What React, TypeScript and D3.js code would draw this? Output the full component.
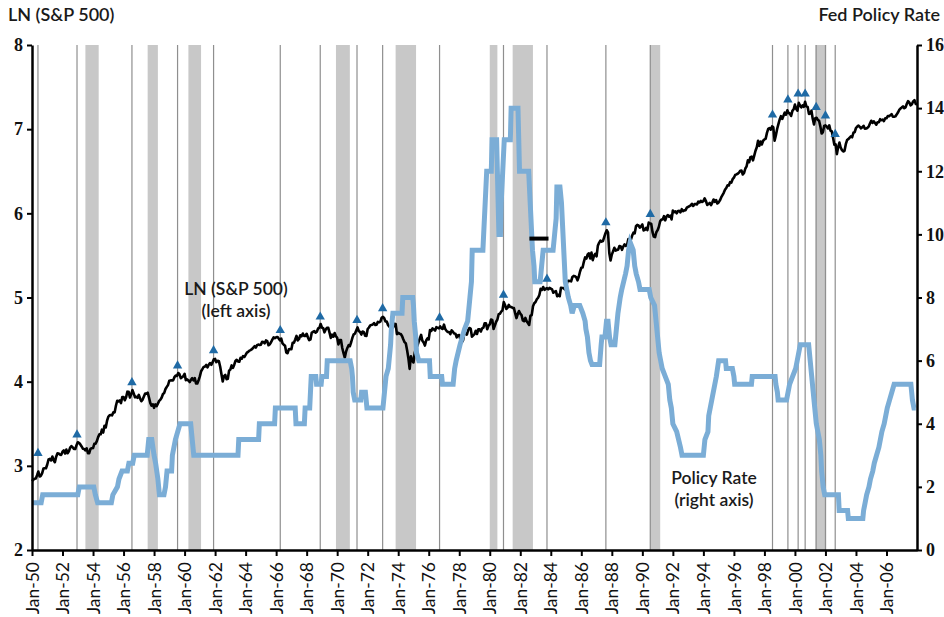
import React, { useRef, useEffect } from 'react';
import * as d3 from 'd3';

const W = 944;
const H = 617;

// S&P 500 month-end closes, one row per year starting 1950
const spxFirstYear = 1950;
const spxDec1949 = 16.76;
const spxCloses: number[][] = [
  [17.05, 17.22, 17.29, 17.96, 18.78, 17.69, 17.84, 18.42, 19.45, 19.53, 19.51, 20.41],
  [21.66, 21.8, 21.4, 22.43, 21.52, 20.96, 22.4, 23.28, 23.26, 22.94, 22.88, 23.77],
  [24.14, 23.26, 24.37, 23.32, 23.86, 24.96, 25.4, 25.03, 24.54, 24.52, 25.66, 26.57],
  [26.38, 25.9, 25.29, 24.62, 24.54, 24.14, 24.75, 23.32, 23.35, 24.54, 24.76, 24.81],
  [26.08, 26.15, 26.94, 28.26, 29.19, 29.21, 30.88, 29.83, 32.31, 31.68, 34.24, 35.98],
  [36.63, 36.76, 36.58, 37.96, 37.91, 41.03, 43.52, 43.18, 43.67, 42.34, 45.51, 45.48],
  [43.82, 45.34, 48.48, 48.38, 45.2, 46.97, 49.39, 47.51, 45.35, 45.58, 45.08, 46.67],
  [44.72, 43.26, 44.11, 45.74, 47.43, 47.37, 47.91, 45.22, 42.42, 41.06, 41.72, 39.99],
  [41.7, 40.84, 42.1, 43.44, 44.09, 45.24, 47.19, 47.75, 50.06, 51.33, 52.48, 55.21],
  [55.42, 55.41, 55.44, 57.59, 58.68, 58.47, 60.51, 59.6, 56.88, 57.52, 58.28, 59.89],
  [55.61, 56.12, 55.34, 54.37, 55.83, 56.92, 55.51, 56.96, 53.52, 53.39, 55.54, 58.11],
  [61.78, 63.44, 65.06, 65.31, 66.56, 64.64, 66.76, 68.07, 66.73, 68.62, 71.32, 71.55],
  [68.84, 69.96, 69.55, 65.24, 59.63, 54.75, 58.23, 59.12, 56.27, 56.52, 62.26, 63.1],
  [66.2, 64.29, 66.57, 69.8, 70.8, 69.37, 69.13, 72.5, 71.7, 74.01, 73.23, 75.02],
  [77.04, 77.8, 78.98, 79.46, 80.37, 81.69, 83.18, 81.83, 84.18, 84.86, 84.42, 84.75],
  [87.56, 87.43, 86.16, 89.11, 88.42, 84.12, 85.25, 87.17, 89.96, 92.42, 91.61, 92.43],
  [92.88, 91.22, 89.23, 91.06, 86.13, 84.74, 83.6, 77.1, 76.56, 80.2, 80.45, 80.33],
  [86.61, 86.78, 90.2, 94.01, 89.08, 90.64, 94.75, 93.64, 96.71, 93.9, 94.0, 96.47],
  [92.24, 89.36, 90.2, 97.59, 98.68, 99.58, 97.74, 98.86, 102.67, 103.41, 108.37, 103.86],
  [103.01, 98.13, 101.51, 103.69, 103.46, 97.71, 91.83, 95.51, 93.12, 97.24, 93.81, 92.06],
  [85.02, 89.5, 89.63, 81.52, 76.55, 72.72, 78.05, 81.52, 84.21, 83.25, 87.2, 92.15],
  [95.88, 96.75, 100.31, 103.95, 99.63, 98.7, 95.58, 99.03, 98.34, 94.23, 93.99, 102.09],
  [103.94, 106.57, 107.2, 107.67, 109.53, 107.14, 107.39, 111.09, 110.55, 111.58, 116.67, 118.05],
  [116.03, 111.68, 111.52, 106.97, 104.95, 104.26, 108.22, 104.25, 108.43, 108.29, 95.96, 97.55],
  [96.57, 96.22, 93.98, 90.31, 87.28, 86.0, 79.31, 72.15, 63.54, 73.9, 69.97, 68.56],
  [76.98, 81.59, 83.36, 87.3, 91.15, 95.19, 88.75, 86.88, 83.87, 89.04, 91.24, 90.19],
  [100.86, 99.71, 102.77, 101.64, 100.18, 104.28, 103.44, 102.91, 105.24, 102.9, 102.1, 107.46],
  [102.03, 99.82, 98.42, 98.44, 96.12, 100.48, 98.85, 96.77, 96.53, 92.34, 94.83, 95.1],
  [89.25, 87.04, 89.21, 96.83, 97.24, 95.53, 100.68, 103.29, 102.54, 93.15, 94.7, 96.11],
  [99.93, 96.28, 101.59, 101.76, 99.08, 102.91, 103.81, 109.32, 109.32, 101.82, 106.16, 107.94],
  [114.16, 113.66, 102.09, 106.29, 111.24, 114.24, 121.67, 122.38, 125.46, 127.47, 140.52, 135.76],
  [129.55, 131.27, 136.0, 132.81, 132.59, 131.21, 130.92, 122.79, 116.18, 121.89, 126.35, 122.55],
  [120.4, 113.11, 111.96, 116.44, 111.88, 109.61, 107.09, 119.51, 120.42, 133.71, 138.54, 140.64],
  [145.3, 148.06, 152.96, 164.42, 162.39, 168.11, 162.56, 164.4, 166.07, 163.55, 166.4, 164.93],
  [163.41, 157.06, 159.18, 160.05, 150.55, 153.18, 150.66, 166.68, 166.1, 166.09, 163.58, 167.24],
  [179.63, 181.18, 180.66, 179.83, 189.55, 191.85, 190.92, 188.63, 182.08, 189.82, 202.17, 211.28],
  [211.78, 226.92, 238.9, 235.52, 247.35, 250.84, 236.12, 252.93, 231.32, 243.98, 249.22, 242.17],
  [274.08, 284.2, 291.7, 288.36, 290.1, 304.0, 318.66, 329.8, 321.83, 251.79, 230.3, 247.08],
  [257.07, 267.82, 258.89, 261.33, 262.16, 273.5, 272.02, 261.52, 271.91, 278.97, 273.7, 277.72],
  [297.47, 288.86, 294.87, 309.64, 320.52, 317.98, 346.08, 351.45, 349.15, 340.36, 345.99, 353.4],
  [329.08, 331.89, 339.94, 330.8, 361.23, 358.02, 356.15, 322.56, 306.05, 304.0, 322.22, 330.22],
  [343.93, 367.07, 375.22, 375.35, 389.83, 371.16, 387.81, 395.43, 387.86, 392.46, 375.22, 417.09],
  [408.79, 412.7, 403.69, 414.95, 415.35, 408.14, 424.21, 414.03, 417.8, 418.68, 431.35, 435.71],
  [438.78, 443.38, 451.67, 440.19, 450.19, 450.53, 448.13, 463.56, 458.93, 467.83, 461.79, 466.45],
  [481.61, 467.14, 445.77, 450.91, 456.5, 444.27, 458.26, 475.49, 462.69, 472.35, 453.69, 459.27],
  [470.42, 487.39, 500.71, 514.71, 533.4, 544.75, 562.06, 561.88, 584.41, 581.5, 605.37, 615.93],
  [636.02, 640.43, 645.5, 654.17, 669.12, 670.63, 639.95, 651.99, 687.31, 705.27, 757.02, 740.74],
  [786.16, 790.82, 757.12, 801.34, 848.28, 885.14, 954.29, 899.47, 947.28, 914.62, 955.4, 970.43],
  [980.28, 1049.34, 1101.75, 1111.75, 1090.82, 1133.84, 1120.67, 957.28, 1017.01, 1098.67, 1163.63, 1229.23],
  [1279.64, 1238.33, 1286.37, 1335.18, 1301.84, 1372.71, 1328.72, 1320.41, 1282.71, 1362.93, 1388.91, 1469.25],
  [1394.46, 1366.42, 1498.58, 1452.43, 1420.6, 1454.6, 1430.83, 1517.68, 1436.51, 1429.4, 1314.95, 1320.28],
  [1366.01, 1239.94, 1160.33, 1249.46, 1255.82, 1224.38, 1211.23, 1133.58, 1040.94, 1059.78, 1139.45, 1148.08],
  [1130.2, 1106.73, 1147.39, 1076.92, 1067.14, 989.82, 911.62, 916.07, 815.28, 885.76, 936.31, 879.82],
  [855.7, 841.15, 848.18, 916.92, 963.59, 974.5, 990.31, 1008.01, 995.97, 1050.71, 1058.2, 1111.92],
  [1131.13, 1144.94, 1126.21, 1107.3, 1120.68, 1140.84, 1101.72, 1104.24, 1114.58, 1130.2, 1173.82, 1211.92],
  [1181.27, 1203.6, 1180.59, 1156.85, 1191.5, 1191.33, 1234.18, 1220.33, 1228.81, 1207.01, 1249.48, 1248.29],
  [1280.08, 1280.66, 1294.83, 1310.61, 1270.09, 1270.2, 1276.66, 1303.82, 1335.85, 1377.94, 1400.63, 1418.3],
  [1438.24, 1406.82, 1420.86, 1482.37, 1530.62, 1503.35, 1455.27, 1473.99, 1526.75, 1549.38, 1481.14, 1468.36],
];

// Fed policy rate, corner points of the step line (decimal year, percent)
const policyDates = [
  1950.0, 1950.6, 1950.7, 1953.0, 1953.1, 1954.05, 1954.15, 1954.3, 1955.2, 1955.3, 1955.6, 1955.7, 1955.9,
  1956.25, 1956.35, 1956.6, 1956.7, 1957.55, 1957.65, 1957.85, 1958.0, 1958.1, 1958.25, 1958.35, 1958.65,
  1958.75, 1958.85, 1959.15, 1959.2, 1959.4, 1959.7, 1960.4, 1960.5, 1960.6, 1963.5, 1963.55, 1964.85,
  1964.9, 1965.9, 1965.95, 1967.25, 1967.3, 1967.85, 1967.9, 1968.2, 1968.25, 1968.3, 1968.6, 1968.65,
  1968.95, 1969.0, 1969.3, 1969.35, 1970.85, 1970.95, 1971.0, 1971.05, 1971.15, 1971.55, 1971.6, 1971.85,
  1971.9, 1971.95, 1973.0, 1973.1, 1973.2, 1973.35, 1973.4, 1973.5, 1973.55, 1973.65, 1974.25, 1974.3,
  1974.95, 1975.0, 1975.05, 1975.15, 1975.2, 1975.35, 1976.05, 1976.1, 1976.85, 1976.9, 1977.6, 1977.7,
  1977.8, 1978.05, 1978.35, 1978.55, 1978.65, 1978.7, 1978.8, 1978.85, 1979.55, 1979.6, 1979.65, 1979.7,
  1979.8, 1980.1, 1980.15, 1980.45, 1980.5, 1980.55, 1980.6, 1980.7, 1980.75, 1980.85, 1980.95, 1981.35,
  1981.4, 1981.85, 1981.9, 1981.95, 1982.55, 1982.6, 1982.65, 1982.7, 1982.75, 1982.8, 1982.9, 1982.95,
  1983.3, 1983.4, 1983.5, 1984.15, 1984.25, 1984.35, 1984.4, 1984.6, 1984.7, 1984.8, 1984.9, 1984.95,
  1985.05, 1985.15, 1985.3, 1985.4, 1985.55, 1985.9, 1986.1, 1986.25, 1986.3, 1986.4, 1986.5, 1986.6,
  1986.7, 1987.2, 1987.3, 1987.35, 1987.55, 1987.65, 1987.75, 1987.85, 1987.95, 1988.2, 1988.3, 1988.4,
  1988.55, 1988.65, 1988.9, 1989.0, 1989.1, 1989.2, 1989.4, 1989.5, 1989.6, 1989.75, 1989.85, 1990.45,
  1990.55, 1990.8, 1990.9, 1991.0, 1991.1, 1991.2, 1991.3, 1991.5, 1991.7, 1991.8, 1991.9, 1992.0,
  1992.25, 1992.5, 1992.6, 1994.0, 1994.1, 1994.3, 1994.35, 1994.55, 1994.85, 1995.0, 1995.45, 1995.5,
  1995.9, 1996.0, 1996.05, 1997.15, 1997.2, 1998.7, 1998.75, 1998.85, 1998.9, 1999.45, 1999.55, 1999.65,
  1999.85, 2000.05, 2000.15, 2000.35, 2000.9, 2001.0, 2001.1, 2001.2, 2001.3, 2001.4, 2001.5, 2001.6,
  2001.7, 2001.75, 2001.85, 2001.95, 2002.85, 2002.9, 2003.45, 2003.5, 2004.45, 2004.5, 2004.6, 2004.7,
  2004.85, 2004.95, 2005.1, 2005.2, 2005.35, 2005.5, 2005.6, 2005.7, 2005.85, 2006.05, 2006.2, 2006.35,
  2006.5, 2007.6, 2007.7, 2007.8, 2007.92,
];
const policyRates = [
  1.5, 1.5, 1.75, 1.75, 2.0, 2.0, 1.75, 1.5, 1.5, 1.75, 2.0, 2.25, 2.5,
  2.5, 2.75, 2.75, 3.0, 3.0, 3.5, 3.5, 3.0, 2.75, 2.25, 1.75, 1.75,
  2.0, 2.5, 2.5, 3.0, 3.5, 4.0, 4.0, 3.5, 3.0, 3.0, 3.5, 3.5,
  4.0, 4.0, 4.5, 4.5, 4.0, 4.0, 4.5, 4.5, 5.0, 5.5, 5.5, 5.25,
  5.25, 5.5, 5.5, 6.0, 6.0, 5.75, 5.5, 5.0, 4.75, 4.75, 5.0, 5.0,
  4.75, 4.5, 4.5, 5.0, 5.5, 5.75, 6.0, 6.5, 7.0, 7.5, 7.5, 8.0,
  8.0, 7.75, 7.25, 6.75, 6.25, 6.0, 6.0, 5.5, 5.5, 5.25, 5.25, 5.75,
  6.0, 6.5, 7.0, 7.25, 7.75, 8.0, 8.5, 9.5, 9.5, 10.0, 10.5, 11.0,
  12.0, 12.0, 13.0, 13.0, 12.0, 11.0, 10.0, 10.0, 11.0, 12.0, 13.0, 13.0,
  14.0, 14.0, 13.0, 12.0, 12.0, 11.5, 11.0, 10.5, 10.0, 9.5, 9.0, 8.5,
  8.5, 9.0, 9.5, 9.5, 10.0, 10.5, 11.5, 11.5, 11.0, 10.0, 9.0, 8.5,
  8.25, 8.0, 7.75, 7.5, 7.75, 7.75, 7.5, 7.25, 7.0, 6.75, 6.25, 6.0,
  5.875, 5.875, 6.5, 6.75, 6.75, 7.25, 7.25, 6.75, 6.5, 6.5, 7.0, 7.5,
  8.0, 8.25, 8.75, 9.0, 9.5, 9.75, 9.5, 9.0, 8.75, 8.5, 8.25, 8.25,
  8.0, 7.75, 7.25, 6.75, 6.25, 6.0, 5.75, 5.5, 5.25, 4.75, 4.5, 4.0,
  3.75, 3.25, 3.0, 3.0, 3.5, 3.75, 4.25, 4.75, 5.5, 6.0, 6.0, 5.75,
  5.75, 5.5, 5.25, 5.25, 5.5, 5.5, 5.25, 5.0, 4.75, 4.75, 5.0, 5.25,
  5.5, 5.75, 6.0, 6.5, 6.5, 6.0, 5.5, 5.0, 4.5, 4.0, 3.75, 3.5,
  3.0, 2.5, 2.0, 1.75, 1.75, 1.25, 1.25, 1.0, 1.0, 1.25, 1.5, 1.75,
  2.0, 2.25, 2.5, 2.75, 3.0, 3.25, 3.5, 3.75, 4.0, 4.5, 4.75, 5.0,
  5.25, 5.25, 4.75, 4.5, 4.5,
];

// recessions (shaded bands)
const recessionStarts = [1953.5, 1957.58, 1960.25, 1969.92, 1973.83, 1980.0, 1981.5, 1990.5, 2001.35];
const recessionEnds = [1954.37, 1958.25, 1961.08, 1970.83, 1975.17, 1980.5, 1982.83, 1991.17, 2002.05];

// market peaks: vertical rules and triangle markers (left axis units)
const peakDates = [
  1950.39, 1952.95, 1956.55, 1959.54, 1961.9, 1966.27, 1968.89, 1971.3, 1972.98, 1976.71, 1980.9,
  1983.75, 1987.61, 1990.52, 1998.53, 1999.54, 2000.21, 2000.67, 2001.39, 2002.0, 2002.64,
];
const peakMarks = [
  3.15, 3.37, 3.99, 4.19, 4.37, 4.61, 4.77, 4.73, 4.87, 4.76, 5.03,
  5.22, 5.89, 5.99, 7.17, 7.35, 7.42, 7.42, 7.26, 7.16, 6.94,
];

// short black dash in the early 80s
const dashDates = [1982.6, 1983.85];
const dashLevel = 5.7;

const leftTicks = [2, 3, 4, 5, 6, 7, 8];
const rightTicks = [0, 2, 4, 6, 8, 10, 12, 14, 16];
const yearTicks = d3.range(1950, 2007, 2);

const sansFont = 'Lato, "Open Sans", sans-serif';
const numFont = '"Liberation Serif", "DejaVu Serif", serif';

const App = () => {
  const svgRef = useRef<SVGSVGElement | null>(null);

  useEffect(() => {
    const svg = d3.select(svgRef.current);
    svg.selectAll('*').remove();

    const x = d3.scaleLinear().domain([1950, 2008]).range([32, 917]);
    const yL = d3.scaleLinear().domain([2, 8]).range([550, 45]);
    const yR = d3.scaleLinear().domain([0, 16]).range([550, 45]);

    // monthly series
    const spx: [number, number][] = [[spxFirstYear, Math.log(spxDec1949)]];
    spxCloses.forEach((row, i) => {
      row.forEach((v, m) => spx.push([spxFirstYear + i + (m + 1) / 12, Math.log(v)]));
    });
    const policy: [number, number][] = policyDates.map((d, i) => [d, policyRates[i]]);

    // recession bands
    svg.append('g')
      .selectAll('rect')
      .data(recessionStarts)
      .enter()
      .append('rect')
      .attr('x', d => x(d))
      .attr('y', yL(8))
      .attr('width', (d, i) => x(recessionEnds[i]) - x(d))
      .attr('height', yL(2) - yL(8))
      .attr('fill', '#c8c8c8');

    // peak rules
    svg.append('g')
      .selectAll('line')
      .data(peakDates)
      .enter()
      .append('line')
      .attr('x1', d => x(d))
      .attr('x2', d => x(d))
      .attr('y1', yL(8))
      .attr('y2', yL(2))
      .attr('stroke', '#8f8f8f')
      .attr('stroke-width', 1.2);

    // LN(S&P 500)
    svg.append('path')
      .datum(spx)
      .attr('fill', 'none')
      .attr('stroke', '#000')
      .attr('stroke-width', 2.6)
      .attr('stroke-linejoin', 'round')
      .attr('d', d3.line<[number, number]>().x(d => x(d[0])).y(d => yL(d[1])));

    // policy rate
    svg.append('path')
      .datum(policy)
      .attr('fill', 'none')
      .attr('stroke', '#7badd6')
      .attr('stroke-width', 5)
      .attr('d', d3.line<[number, number]>().x(d => x(d[0])).y(d => yR(d[1])));

    svg.append('line')
      .attr('x1', x(dashDates[0]))
      .attr('x2', x(dashDates[1]))
      .attr('y1', yL(dashLevel))
      .attr('y2', yL(dashLevel))
      .attr('stroke', '#000')
      .attr('stroke-width', 4);

    // peak markers
    svg.append('g')
      .selectAll('path')
      .data(peakDates)
      .enter()
      .append('path')
      .attr('d', d3.symbol().type(d3.symbolTriangle).size(38))
      .attr('transform', (d, i) => `translate(${x(d)},${yL(peakMarks[i])})`)
      .attr('fill', '#1f6aa5');

    // axes
    const left = svg.append('g')
      .attr('transform', `translate(${x(1950)},0)`)
      .call(d3.axisLeft(yL).tickValues(leftTicks).tickSize(5).tickSizeOuter(0).tickPadding(4).tickFormat(d3.format('d')));
    const right = svg.append('g')
      .attr('transform', `translate(${x(2008)},0)`)
      .call(d3.axisRight(yR).tickValues(rightTicks).tickSize(5).tickSizeOuter(0).tickPadding(4).tickFormat(d3.format('d')));
    const bottom = svg.append('g')
      .attr('transform', `translate(0,${yL(2)})`)
      .call(d3.axisBottom(x).tickValues(yearTicks).tickSize(6).tickSizeOuter(0)
        .tickFormat(d => 'Jan-' + String(d).slice(2)));

    [left, right, bottom].forEach(g => {
      g.select('.domain').attr('stroke', '#000').attr('stroke-width', 2.5);
      g.selectAll('.tick line').attr('stroke', '#000').attr('stroke-width', 2);
    });
    [left, right].forEach(g => {
      g.selectAll('text')
        .attr('font-family', numFont)
        .attr('font-weight', 'bold')
        .attr('font-size', 18)
        .attr('fill', '#111');
    });
    bottom.selectAll('text')
      .attr('transform', 'rotate(-90)')
      .attr('x', -12)
      .attr('y', 0)
      .attr('dy', '0.35em')
      .style('text-anchor', 'end')
      .attr('font-family', sansFont)
      .attr('font-size', 17.5)
      .attr('fill', '#111');

    // titles and labels
    const label = (tx: number, ty: number, s: string, anchor: string, size: number) =>
      svg.append('text')
        .attr('x', tx)
        .attr('y', ty)
        .attr('text-anchor', anchor)
        .attr('font-family', sansFont)
        .attr('font-size', size)
        .attr('font-weight', 600)
        .attr('fill', '#1a1a1a')
        .text(s);

    label(8, 21, 'LN (S&P 500)', 'start', 18);
    label(940, 21, 'Fed Policy Rate', 'end', 18);
    label(236, 295, 'LN (S&P 500)', 'middle', 17.5);
    label(236, 317, '(left axis)', 'middle', 17.5);
    label(714, 484, 'Policy Rate', 'middle', 17.5);
    label(714, 506, '(right axis)', 'middle', 17.5);
  }, []);

  return (
    <svg
      ref={svgRef}
      width={W}
      height={H}
      style={{ position: 'absolute', left: 0, top: 0, background: '#fff' }}
    />
  );
};

export default App;
